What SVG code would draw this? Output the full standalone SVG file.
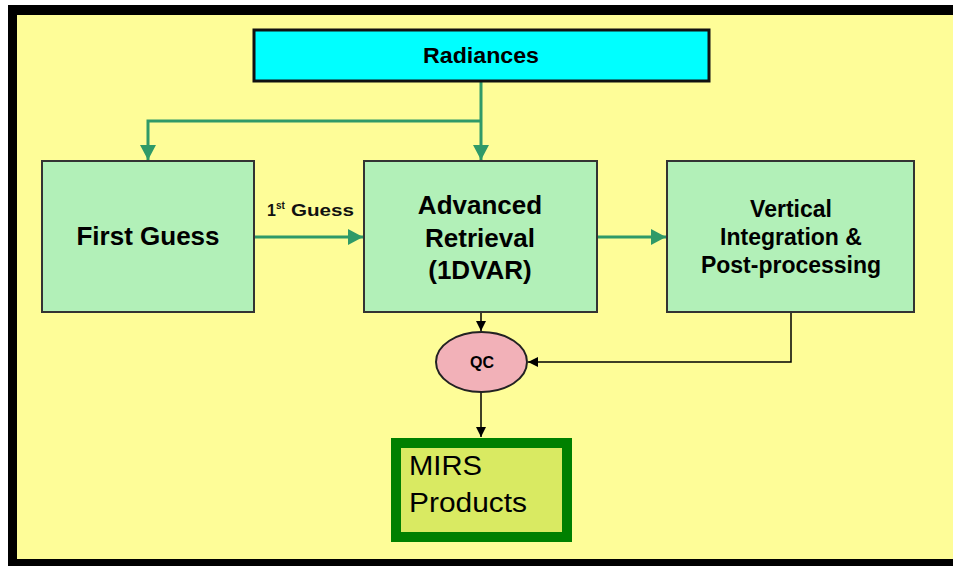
<svg xmlns="http://www.w3.org/2000/svg" width="953" height="566" viewBox="0 0 953 566">
  <defs>
    <marker id="ag" markerUnits="userSpaceOnUse" markerWidth="15" markerHeight="16" refX="15" refY="8" orient="auto">
      <path d="M0,0 L15,8 L0,16 z" fill="#2F9A68"/>
    </marker>
    <marker id="ak" markerUnits="userSpaceOnUse" markerWidth="10" markerHeight="10" refX="10" refY="5" orient="auto">
      <path d="M0,0 L10,5 L0,10 z" fill="#000"/>
    </marker>
  </defs>
  <style>
    .box { fill: #B2F0B8; stroke: #333; stroke-width: 2; }
    .t { font-family: "Liberation Sans", Arial, sans-serif; font-weight: bold; fill: #000; text-anchor: middle; }
    .l { font-family: "Liberation Sans", Arial, sans-serif; font-weight: bold; fill: #111; }
    .g { fill: none; stroke: #2F9A68; stroke-width: 3; }
    .k { fill: none; stroke: #000; stroke-width: 1.5; }
  </style>
  <rect x="0" y="0" width="953" height="566" fill="#fff"/>
  <rect x="8" y="5" width="960" height="580" fill="#000"/>
  <rect x="17" y="15" width="950" height="544" fill="#FEFD98"/>

  <g id="connectors">
    <path class="g" d="M481,82 V160" marker-end="url(#ag)"/>
    <path class="g" d="M481,121 H148 V160" marker-end="url(#ag)"/>
    <path class="g" d="M254,237 H363" marker-end="url(#ag)"/>
    <path class="g" d="M597,237 H666" marker-end="url(#ag)"/>
    <path class="k" d="M481,312 V331" marker-end="url(#ak)"/>
    <path class="k" d="M791,312 V362 H528" marker-end="url(#ak)"/>
    <path class="k" d="M481,392 V437" marker-end="url(#ak)"/>
    <text class="l" x="267" y="216" font-size="16">1</text>
    <text class="l" x="276" y="209" font-size="10">st</text>
    <text class="l" x="291" y="216" font-size="16" textLength="63" lengthAdjust="spacingAndGlyphs">Guess</text>
  </g>

  <g id="radiances">
    <rect x="254" y="30" width="455" height="51" fill="#00FFFF" stroke="#111" stroke-width="3"/>
    <text class="t" x="481" y="63" font-size="22" textLength="116" lengthAdjust="spacingAndGlyphs">Radiances</text>
  </g>

  <g id="first-guess">
    <rect class="box" x="42" y="161" width="212" height="151"/>
    <text class="t" x="148" y="245" font-size="26">First Guess</text>
  </g>

  <g id="advanced-retrieval">
    <rect class="box" x="364" y="161" width="233" height="151"/>
    <text class="t" x="480" y="214" font-size="26">Advanced</text>
    <text class="t" x="480" y="247" font-size="26">Retrieval</text>
    <text class="t" x="480" y="279" font-size="26">(1DVAR)</text>
  </g>

  <g id="vertical-integration">
    <rect class="box" x="667" y="161" width="247" height="151"/>
    <text class="t" x="791" y="217" font-size="23">Vertical</text>
    <text class="t" x="791" y="245" font-size="23">Integration &amp;</text>
    <text class="t" x="791" y="273" font-size="23">Post-processing</text>
  </g>

  <g id="qc">
    <ellipse cx="481.5" cy="362" rx="45.5" ry="30" fill="#F2B1B8" stroke="#222" stroke-width="2"/>
    <text class="t" x="482" y="368" font-size="16">QC</text>
  </g>

  <g id="mirs-products">
    <rect x="396" y="443" width="171" height="94" fill="#D9EA62" stroke="#008000" stroke-width="10"/>
    <text x="409" y="475" font-family="Liberation Sans, Arial, sans-serif" font-size="27" textLength="73" lengthAdjust="spacingAndGlyphs">MIRS</text>
    <text x="409" y="512" font-family="Liberation Sans, Arial, sans-serif" font-size="27" textLength="118" lengthAdjust="spacingAndGlyphs">Products</text>
  </g>
</svg>
